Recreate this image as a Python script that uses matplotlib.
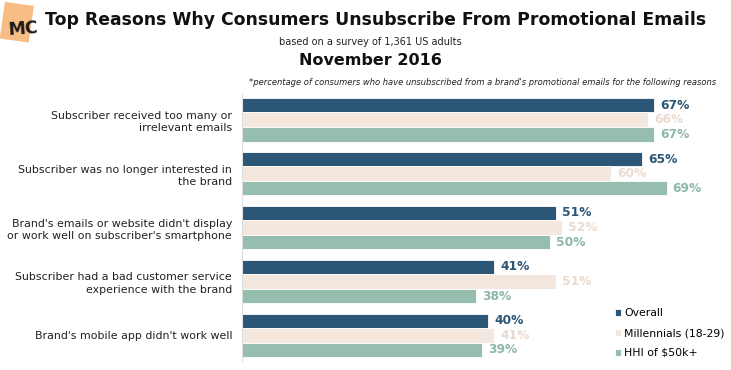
import numpy as np
import matplotlib.pyplot as plt
from matplotlib.patches import Rectangle
import matplotlib.transforms as mtransforms

# ---------DATA------------
reasons = [
    "Subscriber received too many or\nirrelevant emails",
    "Subscriber was no longer interested in\nthe brand",
    "Brand's emails or website didn't display\nor work well on subscriber's smartphone",
    "Subscriber had a bad customer service\nexperience with the brand",
    "Brand's mobile app didn't work well",
]
overall = [67, 65, 51, 41, 40]
millennials = [66, 60, 52, 51, 41]
hhi = [67, 69, 50, 38, 39]
series_names = ["Overall", "Millennials (18-29)", "HHI of $50k+"]

bar_colors = ["#2C5675", "#F4E7DE", "#95BEAF"]
label_colors = ["#2C5675", "#EADBD0", "#8DB8A8"]

# ---------FIGURE------------
fig = plt.figure(figsize=(7.31, 3.70), dpi=100)
ax = fig.add_axes([0.331, 0.025, 0.665, 0.720])

y = np.arange(len(reasons))
h = 0.27
offsets = [-h, 0, h]
all_series = [overall, millennials, hhi]
for vals, off, c, lc, name in zip(all_series, offsets, bar_colors, label_colors, series_names):
    ax.barh(y + off, vals, height=h, color=c, edgecolor="white", linewidth=0.6, label=name)
    for yi, v in zip(y, vals):
        ax.text(v + 1.0, yi + off, f"{v}%", va="center", ha="left",
                fontsize=8.8, fontweight="bold", color=lc)

ax.set_xlim(0, 79)
ax.set_ylim(4.47, -0.47)
ax.set_yticks(y)
ax.set_yticklabels(reasons, fontsize=7.9, color="#222222", linespacing=1.35)
ax.tick_params(axis="y", length=0, pad=7)
ax.set_xticks([])
for s in ["top", "right", "bottom"]:
    ax.spines[s].set_visible(False)
ax.spines["left"].set_color("#DDDDDD")
ax.spines["left"].set_linewidth(0.8)

# legend
leg = fig.legend(loc="upper left", bbox_to_anchor=(0.835, 0.178), frameon=False,
                 fontsize=7.8, handlelength=0.6, handleheight=0.6, handletextpad=0.3,
                 labelspacing=0.9, borderaxespad=0)

# ---------TITLES------------
fig.text(0.062, 0.946, "Top Reasons Why Consumers Unsubscribe From Promotional Emails",
         fontsize=12.4, fontweight="bold", ha="left", va="center", color="#111111")
fig.text(0.507, 0.886, "based on a survey of 1,361 US adults", fontsize=7,
         ha="center", va="center", color="#222222")
fig.text(0.507, 0.836, "November 2016", fontsize=11.5, fontweight="bold",
         ha="center", va="center", color="#111111")
fig.text(0.98, 0.778,
         "*percentage of consumers who have unsubscribed from a brand's promotional emails for the following reasons",
         fontsize=6, style="italic", ha="right", va="center", color="#222222")

# MC logo
logo = Rectangle((0.003, 0.89), 0.040, 0.10, transform=fig.transFigure,
                 facecolor="#F8B578", edgecolor="none", alpha=0.9)
rot = mtransforms.Affine2D().rotate_deg_around(0.023 * 731, 0.94 * 370, -8)
logo.set_transform(fig.transFigure + rot)
fig.patches.append(logo)
fig.text(0.031, 0.922, "MC", fontsize=12.5, fontweight="bold", ha="center", va="center",
         color="#1A1A1A", rotation=4)

fig.savefig("out.png", dpi=100)
